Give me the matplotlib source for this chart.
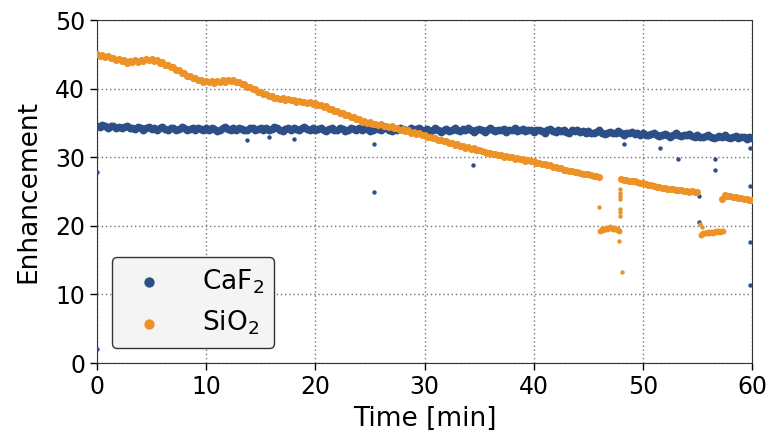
import numpy as np
import matplotlib
matplotlib.use("Agg")
import matplotlib.pyplot as plt

# ---- CaF2: enhancement sampled every 0.25 min from 0 to 60 min ----
caf2_step = 0.25
caf2_vals = [
    34.6, 34.4, 34.7, 34.5, 34.3, 34.5, 34.6, 34.3, 34.4, 34.2, 34.4, 34.5, 34.2, 34.3, 34.1, 34.4, 34.3, 34.0, 34.2, 34.4,
    34.1, 34.3, 34.0, 34.2, 34.4, 34.1, 33.9, 34.2, 34.3, 34.0, 34.1, 34.4, 34.2, 33.9, 34.1, 34.3, 34.0, 34.2, 34.1, 33.9,
    34.2, 34.0, 34.3, 34.1, 33.8, 34.0, 34.2, 34.4, 34.1, 33.9, 34.2, 34.0, 34.3, 34.1, 33.9, 34.0, 34.3, 34.2, 33.9, 34.1,
    34.3, 34.0, 34.2, 33.9, 34.1, 34.4, 34.2, 34.0, 33.8, 34.1, 34.3, 34.0, 34.2, 34.1, 33.9, 34.2, 34.4, 34.1, 34.0, 34.2,
    33.9, 34.1, 34.3, 34.0, 33.8, 34.1, 34.2, 33.9, 34.0, 34.3, 34.1, 33.8, 34.0, 34.2, 34.1, 33.9, 34.2, 34.0, 34.3, 34.1,
    33.8, 34.0, 34.2, 34.1, 33.9, 34.2, 34.3, 34.0, 33.8, 34.1, 34.0, 34.3, 34.1, 33.9, 34.0, 34.2, 33.8, 34.1, 34.2, 34.0,
    33.9, 34.1, 33.8, 34.0, 34.2, 33.9, 33.7, 34.0, 34.1, 33.8, 34.0, 34.2, 33.9, 33.8, 34.1, 33.9, 34.2, 34.0, 33.7, 33.9,
    34.1, 33.9, 33.7, 34.0, 34.2, 33.9, 33.8, 34.0, 33.9, 34.1, 33.7, 33.9, 34.0, 34.2, 33.8, 33.9, 34.1, 33.8, 33.9, 34.0,
    33.7, 33.9, 34.0, 33.8, 33.6, 33.9, 34.1, 33.8, 33.7, 33.9, 33.8, 34.0, 33.7, 33.6, 33.9, 33.8, 34.0, 33.7, 33.8, 33.6,
    33.8, 33.6, 33.5, 33.7, 33.9, 33.6, 33.4, 33.6, 33.7, 33.5, 33.6, 33.8, 33.5, 33.3, 33.6, 33.5, 33.7, 33.4, 33.5, 33.3,
    33.5, 33.3, 33.2, 33.4, 33.6, 33.3, 33.1, 33.3, 33.4, 33.2, 33.0, 33.3, 33.5, 33.2, 33.1, 33.3, 33.2, 33.4, 33.1, 33.0,
    33.2, 33.0, 32.9, 33.1, 33.3, 33.0, 32.8, 33.0, 33.1, 32.9, 33.2, 33.0, 32.8, 32.9, 33.1, 32.8, 33.0, 32.9, 32.7, 32.9,
    32.8,
]
# isolated CaF2 readings away from the main band
caf2_out_t = [0.0, 0.0, 13.7, 15.8, 18.0, 25.4, 25.4, 34.4, 48.3, 51.6, 53.2,
              55.1, 55.1, 56.6, 56.6, 59.8, 59.8, 59.8, 59.8]
caf2_out_v = [27.9, 2.0, 32.5, 32.9, 32.7, 31.9, 24.9, 28.8, 31.9, 31.3, 29.7,
              24.3, 20.5, 29.7, 28.1, 31.3, 25.8, 17.6, 11.4]

# ---- SiO2: main trace, sampled every 0.25 min ----
sio2_step = 0.25
sio2_a_start = 0.0      # 0 .. 46 min
sio2_a = [
    45.1, 44.8, 44.9, 44.6, 44.7, 44.4, 44.5, 44.2, 44.3, 44.0, 44.1, 43.8, 44.0, 43.9, 44.1, 43.9, 44.2, 44.0, 44.3, 44.1,
    44.3, 44.0, 44.1, 43.8, 43.9, 43.5, 43.5, 43.1, 43.1, 42.7, 42.7, 42.3, 42.3, 41.9, 41.9, 41.6, 41.6, 41.3, 41.3, 41.0,
    41.1, 40.9, 41.1, 40.8, 41.1, 40.9, 41.2, 41.0, 41.3, 41.1, 41.2, 40.9, 41.0, 40.7, 40.6, 40.3, 40.3, 39.9, 39.9, 39.5,
    39.5, 39.2, 39.2, 38.9, 38.9, 38.6, 38.7, 38.5, 38.6, 38.4, 38.5, 38.3, 38.4, 38.1, 38.2, 38.0, 38.1, 37.9, 38.0, 37.8,
    37.9, 37.6, 37.6, 37.3, 37.4, 37.1, 37.1, 36.8, 36.8, 36.4, 36.4, 36.1, 36.1, 35.8, 35.8, 35.5, 35.5, 35.2, 35.3, 35.0,
    35.1, 34.8, 34.9, 34.7, 34.8, 34.5, 34.6, 34.4, 34.5, 34.2, 34.3, 34.0, 34.1, 33.8, 33.9, 33.6, 33.7, 33.4, 33.5, 33.2,
    33.3, 33.0, 33.0, 32.8, 32.8, 32.5, 32.5, 32.3, 32.3, 32.0, 32.1, 31.8, 31.9, 31.6, 31.7, 31.4, 31.5, 31.2, 31.3, 31.0,
    31.1, 30.9, 30.8, 30.6, 30.6, 30.4, 30.5, 30.3, 30.3, 30.1, 30.2, 30.0, 30.0, 29.8, 29.9, 29.7, 29.7, 29.5, 29.6, 29.4,
    29.4, 29.2, 29.2, 29.0, 29.0, 28.8, 28.8, 28.6, 28.6, 28.4, 28.4, 28.2, 28.2, 28.0, 28.0, 27.8, 27.8, 27.7, 27.6, 27.5,
    27.5, 27.4, 27.3, 27.2, 27.1,
]
sio2_b_start = 48.0     # 48 .. 55 min
sio2_b = [
    26.8, 26.7, 26.7, 26.6, 26.5, 26.5, 26.4, 26.3, 26.2, 26.1, 26.0, 25.9, 25.8, 25.7, 25.6,
    25.5, 25.5, 25.4, 25.3, 25.3, 25.2, 25.2, 25.2, 25.1, 25.1, 25.0, 25.1, 25.0, 25.0,
]
sio2_c_start = 57.25    # 57.25 .. 60 min
sio2_c = [23.9, 24.5, 24.4, 24.3, 24.2, 24.2, 24.1, 24.0, 23.9, 23.9, 23.8, 23.8]

# ---- SiO2: low plateaus, sampled every 0.125 min ----
dip_step = 0.125
dip1_start = 46.1
dip1 = [19.3, 19.5, 19.4, 19.6, 19.7, 19.6, 19.7, 19.8, 19.7, 19.6, 19.7, 19.6, 19.5, 19.4, 19.3]
dip2_start = 55.3
dip2 = [18.6, 18.8, 18.9, 19.0, 19.0, 19.1, 19.0, 19.1, 19.1, 19.0, 19.1, 19.2, 19.1, 19.2, 19.1, 19.2, 19.3]

# SiO2 transition readings between levels
sio2_jump_t = [46.0, 47.9, 47.9, 47.95, 47.95, 47.9, 47.95, 47.9, 47.85, 48.05, 55.25, 55.4]
sio2_jump_v = [22.7, 25.4, 24.8, 24.4, 23.9, 22.5, 22.0, 21.4, 17.8, 13.3, 20.3, 19.9]

# ---- axis settings ----
x_ticks = [0, 10, 20, 30, 40, 50, 60]
y_ticks = [0, 10, 20, 30, 40, 50]

BLUE = "#2b4f86"
ORANGE = "#ec9226"
FS_TICK = 17
FS_LABEL = 19


def times(start, n, step):
    return start + step * np.arange(n)


fig = plt.figure(figsize=(7.71, 4.37), dpi=100)
ax = fig.add_axes([0.1258, 0.1693, 0.8496, 0.7849])

dot_s = 10    # isolated readings

# CaF2
ax.scatter(times(0.0, len(caf2_vals), caf2_step), caf2_vals,
           s=32, color=BLUE, linewidths=0, zorder=3)
ax.scatter(caf2_out_t, caf2_out_v, s=dot_s, color=BLUE, linewidths=0, zorder=3)

# SiO2
sio2_t = np.concatenate([
    times(sio2_a_start, len(sio2_a), sio2_step),
    times(sio2_b_start, len(sio2_b), sio2_step),
    times(sio2_c_start, len(sio2_c), sio2_step),
])
sio2_v = np.concatenate([sio2_a, sio2_b, sio2_c])
ax.scatter(sio2_t, sio2_v, s=26, color=ORANGE, linewidths=0, zorder=3)

dip_t = np.concatenate([times(dip1_start, len(dip1), dip_step),
                        times(dip2_start, len(dip2), dip_step)])
dip_v = np.concatenate([dip1, dip2])
ax.scatter(dip_t, dip_v, s=18, color=ORANGE, linewidths=0, zorder=3)
ax.scatter(sio2_jump_t, sio2_jump_v, s=dot_s, color=ORANGE, linewidths=0, zorder=3)

ax.set_xlim(0, 60)
ax.set_ylim(0, 50)
ax.set_xticks(x_ticks)
ax.set_yticks(y_ticks)
ax.tick_params(labelsize=FS_TICK, length=5, width=1)
ax.grid(True, linestyle=(0, (1, 2)), color="0.45", linewidth=1.0)
ax.set_axisbelow(True)
for sp in ax.spines.values():
    sp.set_color("0.2")

ax.set_xlabel("Time [min]", fontsize=FS_LABEL, labelpad=5)
ax.set_ylabel("Enhancement", fontsize=FS_LABEL, labelpad=10)

h1 = ax.scatter([], [], s=55, color=BLUE, linewidths=0)
h2 = ax.scatter([], [], s=55, color=ORANGE, linewidths=0)
leg = ax.legend([h1, h2], ["CaF$_2$", "SiO$_2$"], loc="lower left",
                bbox_to_anchor=(0.023, 0.044), borderaxespad=0,
                fontsize=FS_LABEL, handletextpad=1.0, labelspacing=0.5,
                borderpad=0.4, fancybox=True, framealpha=1)
leg.get_frame().set_edgecolor("0.2")
leg.get_frame().set_facecolor("#f4f4f4")
leg.get_frame().set_linewidth(1.0)

fig.savefig("out.png", dpi=100)
